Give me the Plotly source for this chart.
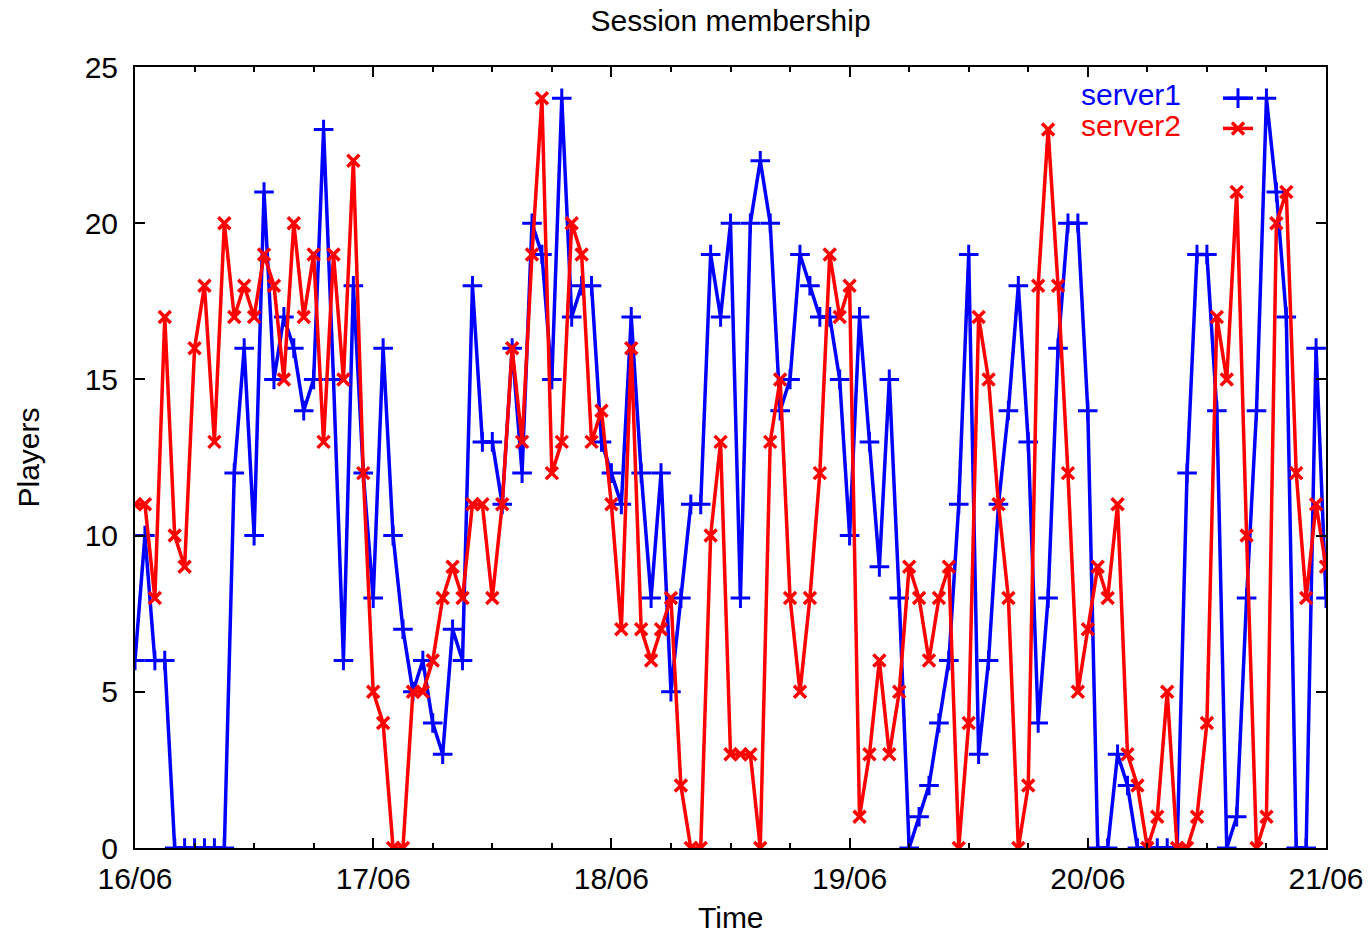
import pandas as pd
import plotly.graph_objects as go

start_time = "2010-06-16 00:00"
n_hours = 121

server1 = [6, 10, 6, 6, 0, 0, 0, 0, 0, 0,
           12, 16, 10, 21, 15, 17, 16, 14, 15, 23,
           15, 6, 18, 12, 8, 16, 10, 7, 5, 6,
           4, 3, 7, 6, 18, 13, 13, 11, 16, 12,
           20, 19, 15, 24, 17, 18, 18, 13, 12, 11,
           17, 12, 8, 12, 5, 8, 11, 11, 19, 17,
           20, 8, 20, 22, 20, 14, 15, 19, 18, 17,
           17, 15, 10, 17, 13, 9, 15, 8, 0, 1,
           2, 4, 6, 11, 19, 3, 6, 11, 14, 18,
           13, 4, 8, 16, 20, 20, 14, 0, 0, 3,
           2, 0, 0, 0, 0, 0, 12, 19, 19, 14,
           0, 1, 8, 14, 24, 21, 17, 0, 0, 16, 8]

server2 = [11, 11, 8, 17, 10, 9, 16, 18, 13, 20,
           17, 18, 17, 19, 18, 15, 20, 17, 19, 13,
           19, 15, 22, 12, 5, 4, 0, 0, 5, 5,
           6, 8, 9, 8, 11, 11, 8, 11, 16, 13,
           19, 24, 12, 13, 20, 19, 13, 14, 11, 7,
           16, 7, 6, 7, 8, 2, 0, 0, 10, 13,
           3, 3, 3, 0, 13, 15, 8, 5, 8, 12,
           19, 17, 18, 1, 3, 6, 3, 5, 9, 8,
           6, 8, 9, 0, 4, 17, 15, 11, 8, 0,
           2, 18, 23, 18, 12, 5, 7, 9, 8, 11,
           3, 2, 0, 1, 5, 0, 0, 1, 4, 17,
           15, 21, 10, 0, 1, 20, 21, 12, 8, 11, 9]

series_names = ["server1", "server2"]
series_colors = ["#0000ff", "#ff0000"]

tick_dates = ["2010-06-16", "2010-06-17", "2010-06-18", "2010-06-19", "2010-06-20", "2010-06-21"]
tick_labels = ["16/06", "17/06", "18/06", "19/06", "20/06", "21/06"]

times = pd.date_range(start_time, periods=n_hours, freq="h")

FONT = "Liberation Sans, Arial, sans-serif"
FS = 30

W, H = 1368, 937
L, T, R, B = 135, 67, 42, 89
PW, PH = W - L - R, H - T - B

fig = go.Figure()
fig.add_trace(go.Scatter(
    x=times, y=server1, mode="lines+markers", name=" ",
    line=dict(color=series_colors[0], width=3.5),
    marker=dict(symbol="cross-thin", size=14, line=dict(color=series_colors[0], width=3)),
))
fig.add_trace(go.Scatter(
    x=times, y=server2, mode="lines+markers", name=" ",
    line=dict(color=series_colors[1], width=3.5),
    marker=dict(symbol="x-thin", size=12, line=dict(color=series_colors[1], width=3.5)),
))

legend_text = [
    dict(text=series_names[i], xref="paper", yref="paper",
         x=(1183 - L) / PW, y=1 - (yy - T) / PH, xanchor="right", yanchor="middle",
         showarrow=False, font=dict(size=FS, color=series_colors[i]))
    for i, yy in enumerate([94, 125])
]

fig.update_layout(
    width=W, height=H,
    margin=dict(l=L, r=R, t=T, b=B, autoexpand=False),
    paper_bgcolor="white", plot_bgcolor="white",
    font=dict(family=FONT, size=FS, color="black"),
    title=dict(text="Session membership", x=0.5, xref="paper", xanchor="center",
               y=1 - 20 / H, yanchor="middle", font=dict(size=FS)),
    showlegend=True,
    legend=dict(x=(1218 - L) / PW, y=1 - (78 - T) / PH, xanchor="left", yanchor="top",
                bgcolor="rgba(0,0,0,0)", borderwidth=0,
                font=dict(size=21), tracegroupgap=0),
    annotations=[
        dict(text="Players", textangle=-90, xref="paper", yref="paper",
             x=(28 - L) / PW, y=0.5, xanchor="center", yanchor="middle",
             showarrow=False, font=dict(size=FS)),
        dict(text="Time", xref="paper", yref="paper",
             x=0.5, y=-(917 - (H - B)) / PH, xanchor="center", yanchor="middle",
             showarrow=False, font=dict(size=FS)),
    ] + legend_text,
)

fig.update_xaxes(
    range=[tick_dates[0], tick_dates[-1]],
    tickmode="array", tickvals=tick_dates, ticktext=tick_labels,
    ticks="inside", ticklen=10, tickwidth=1.5, tickcolor="black",
    minor=dict(dtick=6 * 3600 * 1000, ticks="inside", ticklen=5, tickwidth=1.5, tickcolor="black"),
    showline=True, linecolor="black", linewidth=2, mirror="ticks",
    showgrid=False, zeroline=False, automargin=False,
    ticklabelstandoff=3, ticklabeloverflow="allow",
    tickfont=dict(size=FS),
)
fig.update_yaxes(
    range=[0, 25], dtick=5, tick0=0,
    ticks="inside", ticklen=10, tickwidth=1.5, tickcolor="black",
    showline=True, linecolor="black", linewidth=2, mirror="ticks",
    showgrid=False, zeroline=False, automargin=False,
    ticklabelstandoff=9,
    tickfont=dict(size=FS),
)

fig.write_html("out.html", config={"displayModeBar": False},
               post_script="document.body.style.margin='0';")
